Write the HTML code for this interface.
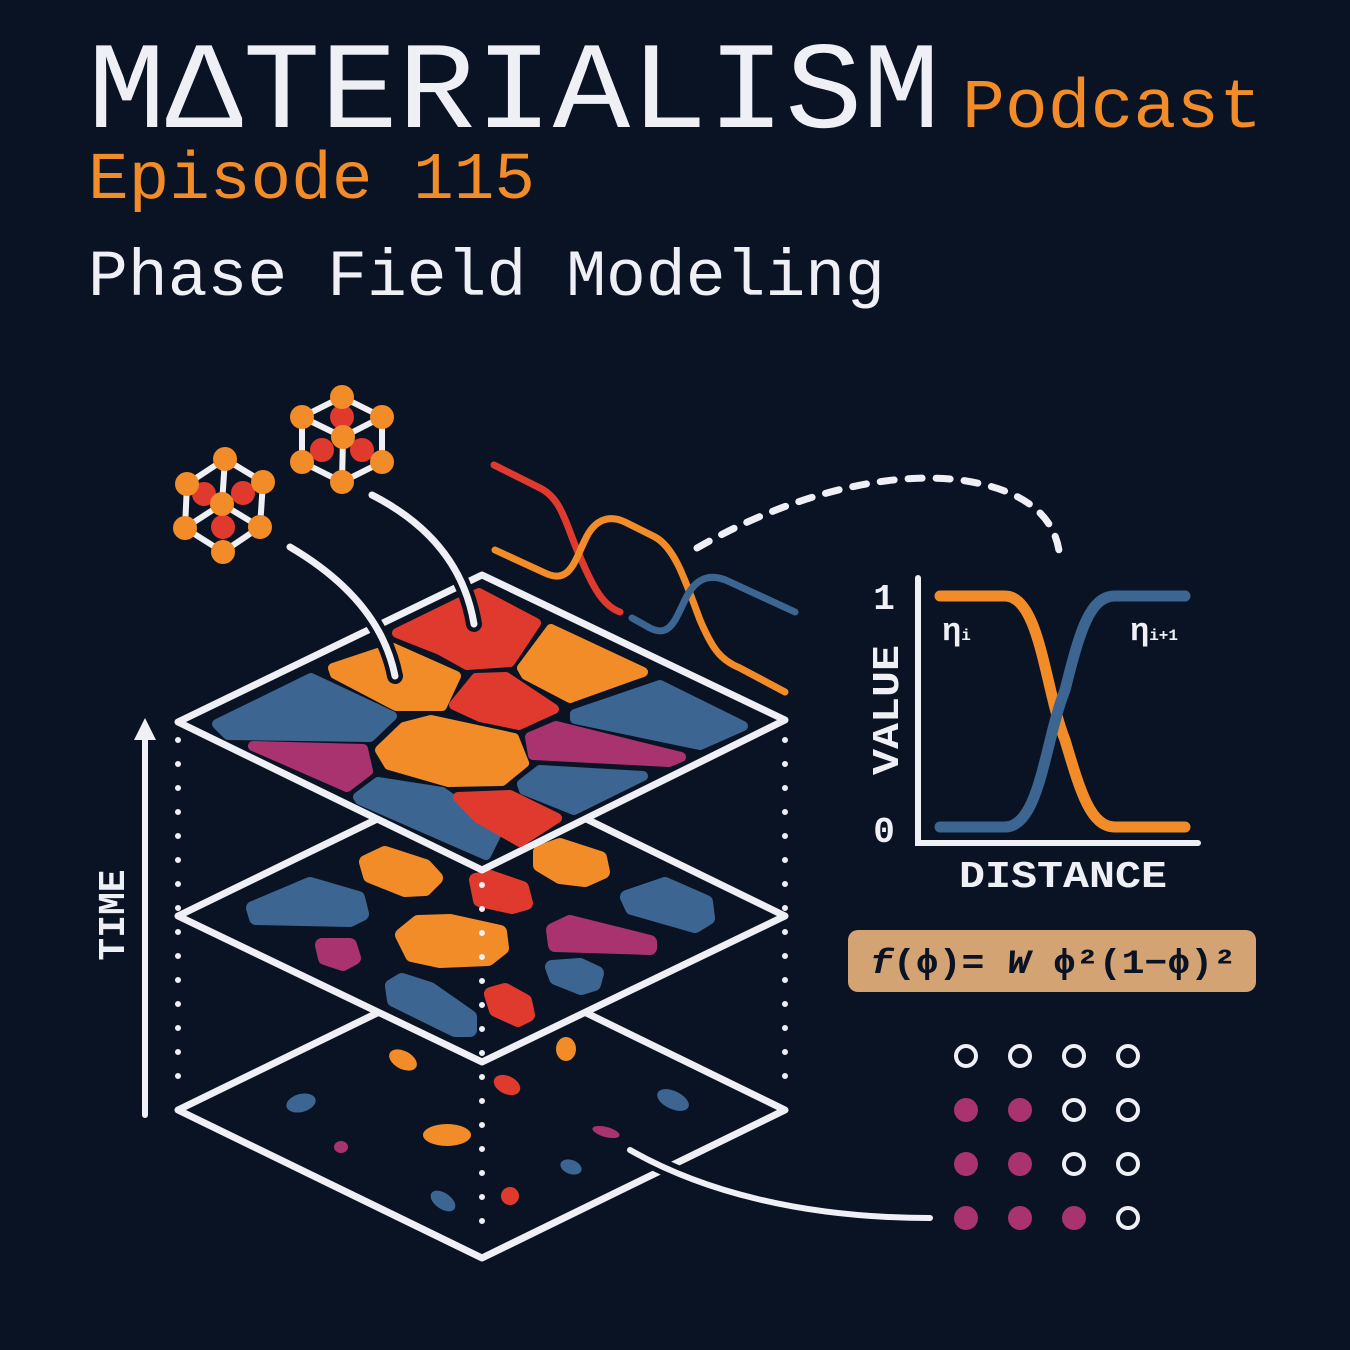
<!DOCTYPE html>
<html><head><meta charset="utf-8"><style>
html,body{margin:0;padding:0;background:#0a1324;}
svg{display:block}
text{font-family:"Liberation Mono","DejaVu Sans Mono",monospace}
</style></head><body>
<svg width="1350" height="1350" viewBox="0 0 1350 1350" xmlns="http://www.w3.org/2000/svg">
<rect width="1350" height="1350" fill="#0a1324"/>
<text x="88" y="127" font-size="124" fill="#eef0f5" textLength="852" lengthAdjust="spacingAndGlyphs">MΔTERIALISM</text>
<text x="962" y="127" font-size="70" fill="#f28c28" textLength="300" lengthAdjust="spacingAndGlyphs">Podcast</text>
<text x="88" y="198" font-size="67" fill="#f28c28" textLength="447" lengthAdjust="spacingAndGlyphs">Episode 115</text>
<text x="88" y="295" font-size="66" fill="#eef0f5" textLength="797" lengthAdjust="spacingAndGlyphs">Phase Field Modeling</text>

<g stroke="#eef0f5" stroke-width="6" stroke-linecap="round" stroke-dasharray="0 24" fill="none">
<line x1="178" y1="740" x2="178" y2="1092"/>
<line x1="785" y1="740" x2="785" y2="1092"/>
</g>

<polygon points="178,1110 482,962 785,1110 482,1258" fill="#0a1324" stroke="#eef0f5" stroke-width="7" stroke-linejoin="round"/>
<g>
<ellipse cx="403" cy="1060" rx="15" ry="9" transform="rotate(28 403 1060)" fill="#f28c28"/>
<ellipse cx="566" cy="1049" rx="10" ry="12" fill="#f28c28"/>
<ellipse cx="507" cy="1085" rx="14" ry="9" transform="rotate(25 507 1085)" fill="#e03a2e"/>
<ellipse cx="301" cy="1103" rx="15" ry="9" transform="rotate(-15 301 1103)" fill="#3d6592"/>
<ellipse cx="673" cy="1100" rx="17" ry="9" transform="rotate(25 673 1100)" fill="#3d6592"/>
<ellipse cx="447" cy="1135" rx="24" ry="11" fill="#f28c28"/>
<ellipse cx="341" cy="1147" rx="7" ry="6" fill="#a8336f"/>
<ellipse cx="606" cy="1132" rx="14" ry="5" transform="rotate(15 606 1132)" fill="#a8336f"/>
<ellipse cx="571" cy="1167" rx="11" ry="7" transform="rotate(20 571 1167)" fill="#3d6592"/>
<ellipse cx="443" cy="1201" rx="14" ry="8" transform="rotate(35 443 1201)" fill="#3d6592"/>
<ellipse cx="510" cy="1196" rx="9" ry="9" fill="#e03a2e"/>
</g>

<polygon points="178,916 482,768 785,916 482,1062" fill="#0a1324" stroke="#eef0f5" stroke-width="7" stroke-linejoin="round"/>
<g stroke-linejoin="round" stroke-width="14">
<polygon points="366,862 385,853 425,866 436,878 425,889 405,890 370,876" fill="#f28c28" stroke="#f28c28"/>
<polygon points="540,852 560,845 600,858 603,872 585,880 560,877 540,865" fill="#f28c28" stroke="#f28c28"/>
<polygon points="476,880 490,877 522,888 526,903 512,907 480,900" fill="#e03a2e" stroke="#e03a2e"/>
<polygon points="253,908 310,884 358,898 362,914 350,920 256,918" fill="#3d6592" stroke="#3d6592"/>
<polygon points="322,945 350,945 354,958 343,964 325,958" fill="#a8336f" stroke="#a8336f"/>
<polygon points="402,935 418,922 450,921 500,932 502,948 488,959 440,961 412,955" fill="#f28c28" stroke="#f28c28"/>
<polygon points="553,930 570,922 650,942 650,948 555,945" fill="#a8336f" stroke="#a8336f"/>
<polygon points="627,897 665,884 706,902 708,918 695,926 632,908" fill="#3d6592" stroke="#3d6592"/>
<polygon points="552,967 580,965 597,973 594,984 581,988 556,978" fill="#3d6592" stroke="#3d6592"/>
<polygon points="392,986 402,980 430,989 470,1017 470,1030 455,1030 394,1000" fill="#3d6592" stroke="#3d6592"/>
<polygon points="491,994 505,990 525,1001 528,1015 518,1020 496,1010" fill="#e03a2e" stroke="#e03a2e"/>
</g>

<polygon points="178,722 482,575 785,720 482,870" fill="#0a1324" stroke="#eef0f5" stroke-width="7" stroke-linejoin="round"/>
<g stroke-linejoin="round" stroke-width="10">
<polygon points="397,633 479,593 536,623 510,662 467,665 440,650" fill="#e03a2e" stroke="#e03a2e"/>
<polygon points="333,668 393,648 456,676 442,706 396,706 335,674" fill="#f28c28" stroke="#f28c28"/>
<polygon points="522,668 551,629 643,672 570,698 526,675" fill="#f28c28" stroke="#f28c28"/>
<polygon points="454,705 476,678 506,677 554,709 519,725 480,717" fill="#e03a2e" stroke="#e03a2e"/>
<polygon points="217,724 311,678 392,716 370,737 228,735" fill="#3d6592" stroke="#3d6592"/>
<polygon points="380,750 404,727 431,720 514,738 524,763 502,781 448,782 389,765" fill="#f28c28" stroke="#f28c28"/>
<polygon points="575,714 660,685 743,726 700,745 575,719" fill="#3d6592" stroke="#3d6592"/>
<polygon points="253,746 363,749 368,771 347,787" fill="#a8336f" stroke="#a8336f"/>
<polygon points="530,737 556,726 681,757 669,762 533,755" fill="#a8336f" stroke="#a8336f"/>
<polygon points="522,784 540,770 643,776 574,810 524,790" fill="#3d6592" stroke="#3d6592"/>
<polygon points="358,797 378,782 442,792 498,831 486,855 360,800" fill="#3d6592" stroke="#3d6592"/>
<polygon points="458,797 510,795 557,818 520,842 478,818" fill="#e03a2e" stroke="#e03a2e"/>
</g>

<line x1="482" y1="885" x2="482" y2="1240" stroke="#eef0f5" stroke-width="6" stroke-linecap="round" stroke-dasharray="0 24"/>

<g fill="none" stroke-linecap="round">
<path d="M290,547 Q380,600 395,676" stroke="#0a1324" stroke-width="16"/>
<path d="M290,547 Q380,600 395,676" stroke="#eef0f5" stroke-width="7"/>
<path d="M372,495 Q460,540 474,624" stroke="#0a1324" stroke-width="16"/>
<path d="M372,495 Q460,540 474,624" stroke="#eef0f5" stroke-width="7"/>
</g>

<g stroke="#eef0f5" stroke-width="6" fill="none">
<polygon points="342,397 382,417 382,462 342,482 302,462 302,417"/>
<line x1="343" y1="437" x2="302" y2="417"/><line x1="343" y1="437" x2="382" y2="417"/><line x1="343" y1="437" x2="342" y2="482"/>
</g>
<g fill="#e03a2e"><circle cx="342" cy="417" r="12"/><circle cx="322" cy="450" r="12"/><circle cx="362" cy="450" r="12"/></g>
<g fill="#f28c28"><circle cx="342" cy="397" r="12"/><circle cx="382" cy="417" r="12"/><circle cx="382" cy="462" r="12"/><circle cx="342" cy="482" r="12"/><circle cx="302" cy="462" r="12"/><circle cx="302" cy="417" r="12"/><circle cx="343" cy="437" r="12"/></g>
<g stroke="#eef0f5" stroke-width="6" fill="none">
<polygon points="225,459 263,482 260,527 223,552 185,528 187,484"/>
<line x1="222" y1="504" x2="225" y2="459"/><line x1="222" y1="504" x2="185" y2="528"/><line x1="222" y1="504" x2="260" y2="527"/>
</g>
<g fill="#e03a2e"><circle cx="204" cy="494" r="12"/><circle cx="243" cy="493" r="12"/><circle cx="223" cy="527" r="12"/></g>
<g fill="#f28c28"><circle cx="225" cy="459" r="12"/><circle cx="263" cy="482" r="12"/><circle cx="260" cy="527" r="12"/><circle cx="223" cy="552" r="12"/><circle cx="185" cy="528" r="12"/><circle cx="187" cy="484" r="12"/><circle cx="222" cy="504" r="12"/></g>

<g fill="none" stroke-width="7" stroke-linecap="round">
<path d="M494,465 L540,488 C560,498 565,520 575,545 C590,580 600,605 620,612" stroke="#e03a2e"/>
<path d="M495,550 L545,573 C570,585 575,560 585,540 C595,518 610,515 625,522 L655,537 C675,548 685,580 700,620 C712,648 720,660 740,668 L785,692" stroke="#f28c28"/>
<path d="M632,618 L650,628 C670,638 675,620 685,600 C695,578 710,572 730,582 L795,612" stroke="#3d6592"/>
</g>
<path d="M697,548 C780,500 880,470 960,480 C1030,490 1058,520 1060,560" fill="none" stroke="#eef0f5" stroke-width="7" stroke-linecap="round" stroke-dasharray="14 14"/>

<line x1="145" y1="1115" x2="145" y2="735" stroke="#eef0f5" stroke-width="6" stroke-linecap="round"/>
<polygon points="145,718 134,740 156,740" fill="#eef0f5"/>
<text transform="translate(124,915) rotate(-90)" font-size="38" font-weight="bold" fill="#eef0f5" text-anchor="middle">TIME</text>

<path d="M918,578 L918,843 L1198,843" fill="none" stroke="#eef0f5" stroke-width="6" stroke-linecap="round"/>
<g fill="none" stroke-width="11" stroke-linecap="round">
<path d="M940,596 L1005,596 C1040,596 1045,690 1065,740 C1080,790 1090,827 1115,827 L1185,827" stroke="#f28c28"/>
<path d="M940,827 L1005,827 C1040,827 1045,740 1065,690 C1080,630 1090,596 1115,596 L1185,596" stroke="#3d6592"/>
</g>
<text x="884" y="609" font-size="36" font-weight="bold" fill="#eef0f5" text-anchor="middle">1</text>
<text x="884" y="842" font-size="36" font-weight="bold" fill="#eef0f5" text-anchor="middle">0</text>
<text transform="translate(898,775) rotate(-90)" font-size="38" font-weight="bold" fill="#eef0f5" textLength="130" lengthAdjust="spacingAndGlyphs">VALUE</text>
<text x="959" y="887" font-size="38" font-weight="bold" fill="#eef0f5" textLength="208" lengthAdjust="spacingAndGlyphs">DISTANCE</text>
<text x="942" y="640" font-size="32" font-weight="bold" fill="#eef0f5">η<tspan font-size="16">i</tspan></text>
<text x="1130" y="640" font-size="32" font-weight="bold" fill="#eef0f5">η<tspan font-size="16">i+1</tspan></text>

<rect x="848" y="930" width="408" height="62" rx="10" fill="#d4a373"/>
<text x="870" y="973" font-size="34" font-weight="bold" fill="#0a1324" textLength="366" lengthAdjust="spacingAndGlyphs"><tspan font-style="italic">f</tspan>(ϕ)= <tspan font-style="italic">W</tspan> ϕ²(1−ϕ)²</text>

<g stroke="#eef0f5" stroke-width="4" fill="none">
<circle cx="966" cy="1056" r="10"/><circle cx="1020" cy="1056" r="10"/><circle cx="1074" cy="1056" r="10"/><circle cx="1128" cy="1056" r="10"/>
<circle cx="1074" cy="1110" r="10"/><circle cx="1128" cy="1110" r="10"/>
<circle cx="1074" cy="1164" r="10"/><circle cx="1128" cy="1164" r="10"/>
<circle cx="1128" cy="1218" r="10"/>
</g>
<g fill="#a8336f">
<circle cx="966" cy="1110" r="12"/><circle cx="1020" cy="1110" r="12"/>
<circle cx="966" cy="1164" r="12"/><circle cx="1020" cy="1164" r="12"/>
<circle cx="966" cy="1218" r="12"/><circle cx="1020" cy="1218" r="12"/><circle cx="1074" cy="1218" r="12"/>
</g>
<path d="M630,1150 C700,1190 800,1218 930,1218" fill="none" stroke="#0a1324" stroke-width="16" stroke-linecap="round"/>
<path d="M630,1150 C700,1190 800,1218 930,1218" fill="none" stroke="#eef0f5" stroke-width="6" stroke-linecap="round"/>
</svg>
</body></html>
